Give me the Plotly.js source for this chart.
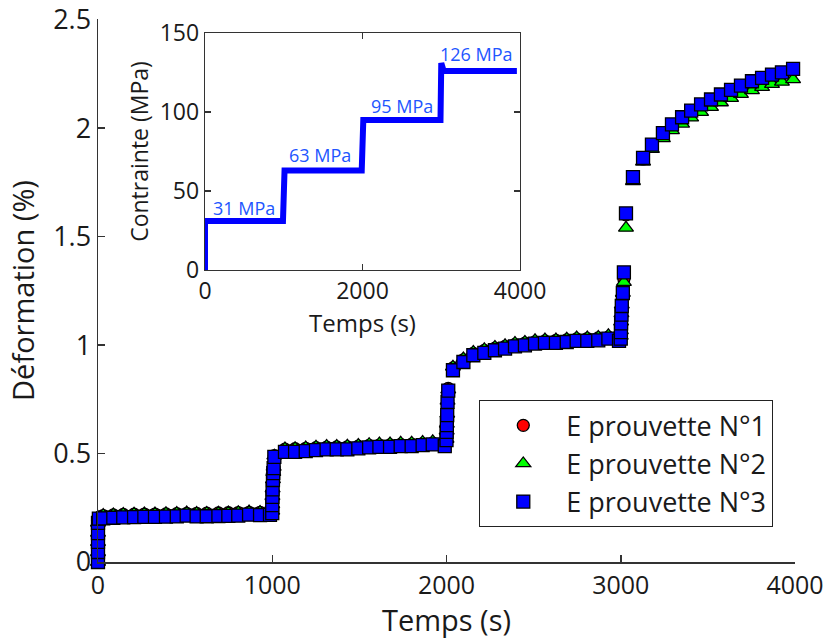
<!DOCTYPE html>
<html>
<head>
<meta charset="utf-8">
<script src="https://cdn.plot.ly/plotly-3.0.1.min.js"></script>
<style>html,body{margin:0;padding:0;background:#fff;}#chart{width:830px;height:639px;}</style>
</head>
<body>
<div id="chart"></div>
<script>
// ---- Main chart data (time in s, strain in %) ----
const temps = [
  0, 0, 0, 0, 0, 5,
  30, 88, 145, 207, 266, 327, 390, 452, 509, 566, 624, 691, 748, 805, 867, 930, 987,
  1000, 1000, 1001, 1002, 1004, 1006, 1008, 1012,
  1073, 1131, 1192, 1251, 1312, 1370, 1431, 1494, 1556, 1615, 1676, 1737, 1800, 1863, 1921,
  1990, 2000, 2001, 2002, 2004, 2006, 2010,
  2037, 2097, 2154, 2217, 2278, 2336, 2393, 2450, 2508, 2565, 2628, 2690, 2747, 2808, 2871, 2929,
  2990, 3000, 3001, 3002, 3004, 3006, 3012, 3018,
  3030,
  3070, 3128, 3179, 3242, 3294, 3352, 3404, 3461, 3518, 3575, 3633, 3690, 3753, 3811, 3868, 3925, 3989
];

const eprouvette1 = [
  0, 0.046, 0.093, 0.135, 0.182, 0.205,
  0.214, 0.217, 0.219, 0.220, 0.221, 0.221, 0.222, 0.223, 0.224, 0.224, 0.225, 0.226, 0.227, 0.228, 0.229, 0.229, 0.230,
  0.235, 0.265, 0.302, 0.338, 0.380, 0.413, 0.437, 0.490,
  0.520, 0.522, 0.524, 0.527, 0.529, 0.530, 0.531, 0.534, 0.537, 0.539, 0.540, 0.542, 0.543, 0.546, 0.548,
  0.545, 0.565, 0.604, 0.636, 0.682, 0.745, 0.800,
  0.895, 0.932, 0.962, 0.975, 0.986, 0.994, 1.003, 1.009, 1.015, 1.019, 1.021, 1.024, 1.028, 1.030, 1.033, 1.036,
  1.030, 1.040, 1.065, 1.105, 1.145, 1.185, 1.245, 1.305,
  1.600,
  1.770, 1.858, 1.918, 1.970, 2.010, 2.043, 2.074, 2.101, 2.124, 2.146, 2.167, 2.187, 2.206, 2.222, 2.237, 2.247, 2.263
];

const eprouvette2 = [
  0, 0.045, 0.092, 0.134, 0.181, 0.206,
  0.216, 0.219, 0.221, 0.222, 0.223, 0.223, 0.224, 0.225, 0.228, 0.225, 0.226, 0.227, 0.228, 0.229, 0.232, 0.230, 0.231,
  0.236, 0.266, 0.303, 0.338, 0.381, 0.414, 0.438, 0.490,
  0.523, 0.524, 0.527, 0.531, 0.534, 0.534, 0.535, 0.539, 0.543, 0.546, 0.546, 0.549, 0.549, 0.553, 0.556,
  0.548, 0.567, 0.605, 0.637, 0.683, 0.743, 0.795,
  0.900, 0.938, 0.968, 0.980, 0.991, 0.999, 1.009, 1.014, 1.022, 1.025, 1.025, 1.029, 1.034, 1.034, 1.037, 1.045,
  1.033, 1.042, 1.068, 1.108, 1.146, 1.186, 1.240, 1.290,
  1.540,
  1.755, 1.845, 1.903, 1.953, 1.990, 2.020, 2.048, 2.074, 2.097, 2.118, 2.138, 2.157, 2.174, 2.189, 2.203, 2.213, 2.225
];

const eprouvette3 = [
  0, 0.046, 0.093, 0.133, 0.180, 0.200,
  0.201, 0.204, 0.206, 0.207, 0.208, 0.208, 0.209, 0.210, 0.214, 0.210, 0.211, 0.212, 0.213, 0.214, 0.218, 0.216, 0.217,
  0.225, 0.262, 0.300, 0.335, 0.378, 0.410, 0.433, 0.485,
  0.508, 0.508, 0.511, 0.516, 0.519, 0.519, 0.519, 0.524, 0.528, 0.531, 0.531, 0.534, 0.534, 0.539, 0.542,
  0.534, 0.562, 0.600, 0.631, 0.677, 0.738, 0.790,
  0.884, 0.922, 0.953, 0.964, 0.976, 0.984, 0.994, 0.999, 1.007, 1.010, 1.010, 1.014, 1.019, 1.019, 1.022, 1.030,
  1.019, 1.030, 1.060, 1.100, 1.140, 1.180, 1.240, 1.335,
  1.607,
  1.774, 1.863, 1.924, 1.977, 2.017, 2.050, 2.081, 2.109, 2.132, 2.155, 2.176, 2.196, 2.216, 2.232, 2.247, 2.257, 2.273
];

const seriesNames = ["E prouvette N°1", "E prouvette N°2", "E prouvette N°3"];

// ---- Inset data (stress history) ----
const tempsContrainte = [0, 0, 990, 1010, 1990, 2010, 2990, 3000, 3030, 3960];
const contrainte =      [0, 31, 31, 63, 63, 95, 95, 131, 126, 126];
const paliersTemps = [490, 1460, 2500, 3450];
const paliersValeur = [39, 73, 104, 137];
const paliersTexte = ["31 MPa", "63 MPa", "95 MPa", "126 MPa"];

const mainTicksX = [0, 1000, 2000, 3000, 4000];
const mainTicksY = [0, 0.5, 1, 1.5, 2, 2.5];
const insetTicksX = [0, 2000, 4000];
const insetTicksY = [0, 50, 100, 150];

const FONT = "Open Sans, DejaVu Sans, sans-serif";
const TXT = "#1a1a1a";
const AX = "#333333";

const traces = [
  {x: temps, y: eprouvette1, name: seriesNames[0], type: "scatter", mode: "markers", cliponaxis: false,
   marker: {symbol: "circle", size: 12, color: "#ff0000", line: {color: "#000", width: 1.3}}},
  {x: temps, y: eprouvette2, name: seriesNames[1], type: "scatter", mode: "markers", cliponaxis: false,
   marker: {symbol: "triangle-up", size: 13, color: "#00ff00", line: {color: "#000", width: 1.3}}},
  {x: temps, y: eprouvette3, name: seriesNames[2], type: "scatter", mode: "markers", cliponaxis: false,
   marker: {symbol: "square", size: 13, color: "#0000ff", line: {color: "#000", width: 1.3}}},
  {x: tempsContrainte, y: contrainte, xaxis: "x2", yaxis: "y2", type: "scatter", mode: "lines",
   showlegend: false, line: {color: "#0000ff", width: 6}}
];

const annotations = paliersTexte.map((t, i) => ({
  x: paliersTemps[i], y: paliersValeur[i], xref: "x2", yref: "y2", text: t, showarrow: false,
  font: {family: FONT, size: 18, color: "#2255ff"}
}));

const layout = {
  width: 830, height: 639,
  margin: {l: 98, r: 35, t: 19, b: 77, pad: 0},
  paper_bgcolor: "#fff", plot_bgcolor: "rgba(0,0,0,0)",
  font: {family: FONT, color: TXT, size: 27},
  showlegend: true,
  legend: {
    x: 0.5466, y: 0.2983, xanchor: "left", yanchor: "top",
    bgcolor: "#fff", bordercolor: "#222", borderwidth: 1.3, itemwidth: 76,
    font: {family: FONT, size: 27, color: TXT}
  },
  xaxis: {
    domain: [0, 1], range: [0, 4000], tickvals: mainTicksX, ticks: "inside", ticklen: 7, tickwidth: 1.5,
    tickcolor: AX, showline: true, linecolor: AX, linewidth: 1.5, showgrid: false, zeroline: false,
    tickfont: {size: 25}, title: {text: "Temps (s)", font: {size: 29}, standoff: 5}
  },
  yaxis: {
    domain: [0, 1], range: [0, 2.503], tickvals: mainTicksY, ticks: "inside", ticklen: 7, tickwidth: 1.5,
    tickcolor: AX, showline: true, linecolor: AX, linewidth: 1.5, showgrid: false, zeroline: false,
    tickfont: {size: 27}, title: {text: "Déformation (%)", font: {size: 29}, standoff: 10}
  },
  xaxis2: {
    domain: [0.1535, 0.6055], anchor: "y2", range: [0, 4000], tickvals: insetTicksX, ticks: "inside",
    ticklen: 6, tickwidth: 1.3, tickcolor: AX, showline: true, mirror: "allticks", linecolor: AX, linewidth: 1.3,
    showgrid: false, zeroline: false, tickfont: {size: 23}, title: {text: "Temps (s)", font: {size: 24}, standoff: 0}
  },
  yaxis2: {
    domain: [0.5378, 0.9742], anchor: "x2", range: [0, 150], tickvals: insetTicksY, ticks: "inside",
    ticklen: 6, tickwidth: 1.3, tickcolor: AX, showline: true, mirror: "allticks", linecolor: AX, linewidth: 1.3,
    showgrid: false, zeroline: false, tickfont: {size: 23}, title: {text: "Contrainte (MPa)", font: {size: 23}, standoff: 4}
  },
  annotations: annotations
};

Plotly.newPlot("chart", traces, layout, {displayModeBar: false, staticPlot: true});
</script>
</body>
</html>
